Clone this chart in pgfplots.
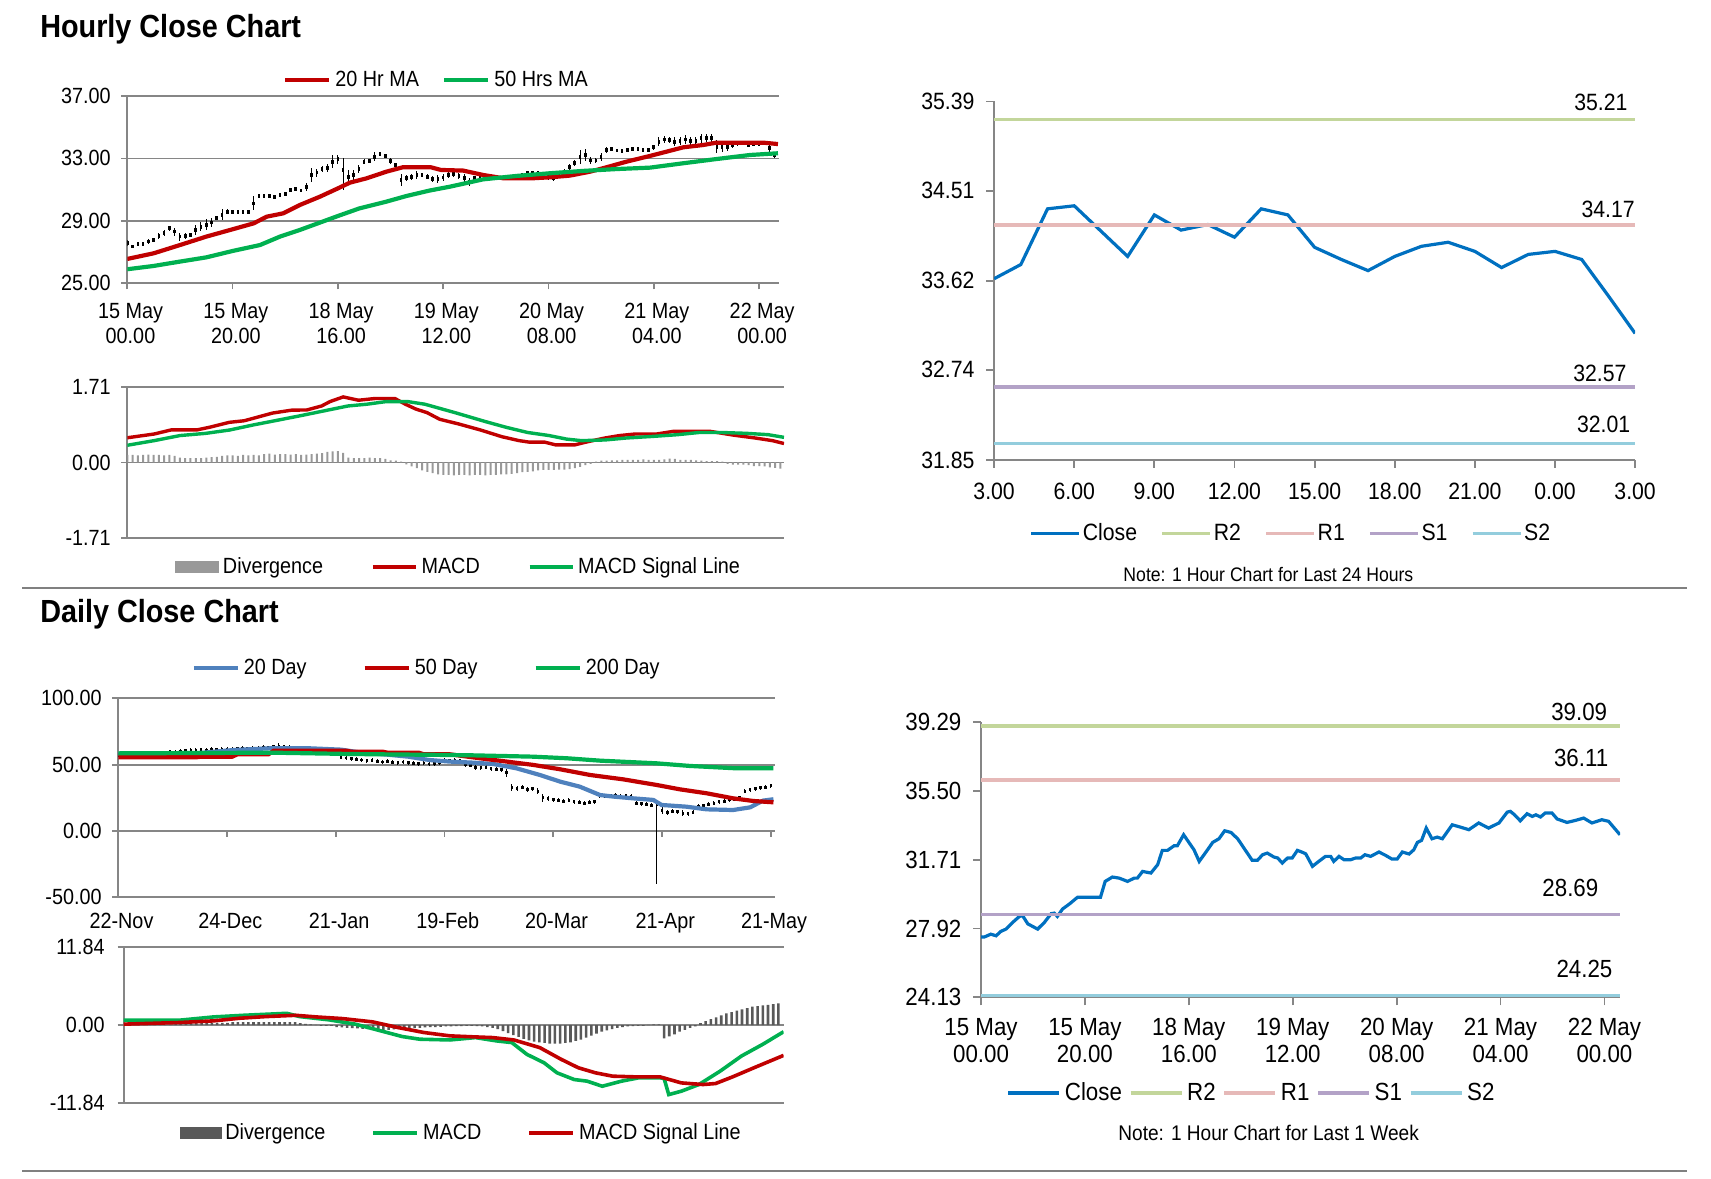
\documentclass[border=0pt]{standalone}
\usepackage{fontspec}
\setmainfont{Liberation Sans}[FakeStretch=0.9]
\usepackage{pgfplots}
\pgfplotsset{compat=1.18}

\definecolor{axgray}{HTML}{868686}
\definecolor{marred}{HTML}{C00000}
\definecolor{margreen}{HTML}{00B050}
\definecolor{dayblue}{HTML}{4F81BD}
\definecolor{closeblue}{HTML}{0070C0}
\definecolor{rtwo}{HTML}{C3D69B}
\definecolor{rone}{HTML}{E6B9B8}
\definecolor{sone}{HTML}{B3A2C7}
\definecolor{stwo}{HTML}{93CDDD}
\definecolor{divlight}{HTML}{999999}
\definecolor{divdark}{HTML}{595959}
\definecolor{rulegray}{HTML}{808080}

\newcommand{\fs}[2]{\fontsize{#1}{#2}\selectfont}

\pgfplotsset{
  base/.style={
    scale only axis, anchor=south west, clip mode=individual,
    axis line style={draw=axgray, line width=0.9pt},
    every tick/.style={draw=axgray, line width=0.9pt},
    major tick length=3pt, tick align=outside,
    grid style={draw=axgray, line width=0.9pt},
    legend cell align=left,
    legend style={draw=none, fill=none, anchor=center, legend columns=-1,
      inner sep=0pt, nodes={inner xsep=2pt, inner ysep=1pt, text=black}},
  },
  candle/.style={draw=none, mark=none, forget plot,
    error bars/y dir=both, error bars/error mark=none},
}

\begin{document}
\begin{tikzpicture}
\path[use as bounding box] (0pt,0pt) rectangle (855.5pt,589pt);

% titles and rules
\node[anchor=west, font=\fs{16pt}{18pt}\bfseries] at (16.6pt,574.5pt) {Hourly Close Chart};
\node[anchor=west, font=\fs{16pt}{18pt}\bfseries] at (16.6pt,282pt) {Daily Close Chart};
\draw[rulegray, line width=1.2pt] (11pt,295pt) -- (843.5pt,295pt);
\draw[rulegray, line width=1.2pt] (11pt,3.5pt) -- (843.5pt,3.5pt);
\node[font=\fs{9.8pt}{12pt}] at (634.2pt,301.5pt) {Note: 1 Hour Chart for Last 24 Hours};
\node[font=\fs{10.6pt}{12pt}] at (634.3pt,22.5pt) {Note: 1 Hour Chart for Last 1 Week};

%% ---------------- hourly close (top left) ----------------
\begin{axis}[base, at={(63.65pt,447.35pt)}, width=325.85pt, height=93.65pt,
  xmin=0, xmax=123.8, ymin=25, ymax=37,
  axis x line*=bottom, axis y line*=left,
  ytick={25,29,33,37}, yticklabels={25.00,29.00,33.00,37.00},
  ymajorgrids,
  xtick={0,20,40,60,80,100,120},
  xticklabels={{15 May\\00.00},{15 May\\20.00},{18 May\\16.00},{19 May\\12.00},{20 May\\08.00},{21 May\\04.00},{22 May\\00.00}},
  tick label style={font=\fs{11pt}{12.5pt}},
  xticklabel style={align=center, yshift=-3.5pt, xshift=1.6pt},
  yticklabel style={xshift=-1.8pt},
  legend style={at={(0.476,1.085)}, font=\fs{11pt}{12.5pt},
    /tikz/every even column/.append style={column sep=9.5pt}},
  legend image code/.code={\draw[#1] (0pt,0pt) -- (22pt,0pt);},
]
\addplot[candle, error bars/y explicit, error bars/error bar style={draw=black, line width=0.5pt}]
  table[x=x, y=y, y error=e] {
x y e
0 27.56 0.2
1 27.35 0.1
2 27.50 0.05
3 27.52 0.05
4 27.67 0.15
5 27.78 0.15
6 28.03 0.2
7 28.24 0.2
8 28.52 0.15
9 28.31 0.25
10 27.99 0.25
11 28.03 0.2
12 28.10 0.15
13 28.42 0.3
14 28.63 0.3
15 28.74 0.35
16 28.89 0.3
17 29.16 0.1
18 29.38 0.35
19 29.59 0.15
20 29.59 0.05
21 29.59 0.05
22 29.59 0.05
23 29.59 0.05
24 30.12 0.45
25 30.59 0.1
26 30.59 0.05
27 30.59 0.05
28 30.55 0.1
29 30.64 0.12
30 30.72 0.08
31 30.98 0.15
32 31.04 0.1
33 30.94 0.1
34 31.19 0.25
35 31.94 0.45
36 32.09 0.25
37 32.32 0.2
38 32.37 0.25
39 32.79 0.4
40 32.94 0.3
41 32.00 1.0
42 31.83 0.4
43 31.94 0.3
44 32.30 0.25
45 32.79 0.15
46 32.84 0.1
47 33.11 0.3
48 33.28 0.15
49 33.16 0.1
50 32.84 0.2
51 32.58 0.1
52 31.62 0.4
53 31.73 0.2
54 31.79 0.2
55 31.94 0.25
56 31.94 0.15
57 31.83 0.15
58 31.66 0.2
59 31.66 0.25
60 31.77 0.2
61 31.94 0.2
62 32.00 0.2
63 31.85 0.2
64 31.73 0.3
65 31.51 0.25
66 31.73 0.15
67 31.78 0.15
68 31.78 0.1
69 31.83 0.1
70 31.83 0.1
71 31.73 0.1
72 31.79 0.1
73 31.83 0.1
74 31.88 0.1
75 31.94 0.1
76 32.05 0.15
77 32.09 0.1
78 32.05 0.1
79 31.94 0.1
80 31.79 0.15
81 31.73 0.15
82 32.05 0.15
83 32.15 0.15
84 32.47 0.2
85 32.69 0.2
86 33.11 0.45
87 33.22 0.4
88 32.86 0.2
89 32.86 0.15
90 33.11 0.25
91 33.54 0.2
92 33.58 0.1
93 33.50 0.1
94 33.48 0.1
95 33.54 0.1
96 33.60 0.1
97 33.58 0.1
98 33.54 0.1
99 33.54 0.1
100 33.71 0.15
101 34.07 0.3
102 34.22 0.2
103 34.18 0.2
104 34.07 0.3
105 34.14 0.25
106 34.22 0.3
107 34.14 0.25
108 34.14 0.25
109 34.29 0.3
110 34.29 0.25
111 34.29 0.25
112 33.75 0.4
113 33.71 0.3
114 33.75 0.3
115 33.86 0.2
116 33.96 0.15
117 33.96 0.1
118 33.86 0.15
119 33.90 0.1
120 33.92 0.1
121 33.96 0.1
122 33.65 0.25
123 33.22 0.2
};
\addplot[candle, error bars/y fixed=0.12, error bars/error bar style={draw=black, line width=1.3pt}]
  table[x=x, y=y] {
x y
0 27.56
1 27.35
2 27.50
3 27.52
4 27.67
5 27.78
6 28.03
7 28.24
8 28.52
9 28.31
10 27.99
11 28.03
12 28.10
13 28.42
14 28.63
15 28.74
16 28.89
17 29.16
18 29.38
19 29.59
20 29.59
21 29.59
22 29.59
23 29.59
24 30.12
25 30.59
26 30.59
27 30.59
28 30.55
29 30.64
30 30.72
31 30.98
32 31.04
33 30.94
34 31.19
35 31.94
36 32.09
37 32.32
38 32.37
39 32.79
40 32.94
41 32.26
42 31.83
43 31.94
44 32.30
45 32.79
46 32.84
47 33.11
48 33.28
49 33.16
50 32.84
51 32.58
52 31.62
53 31.73
54 31.79
55 31.94
56 31.94
57 31.83
58 31.66
59 31.66
60 31.77
61 31.94
62 32.00
63 31.85
64 31.73
65 31.51
66 31.73
67 31.78
68 31.78
69 31.83
70 31.83
71 31.73
72 31.79
73 31.83
74 31.88
75 31.94
76 32.05
77 32.09
78 32.05
79 31.94
80 31.79
81 31.73
82 32.05
83 32.15
84 32.47
85 32.69
86 33.11
87 33.22
88 32.86
89 32.86
90 33.11
91 33.54
92 33.58
93 33.50
94 33.48
95 33.54
96 33.60
97 33.58
98 33.54
99 33.54
100 33.71
101 34.07
102 34.22
103 34.18
104 34.07
105 34.14
106 34.22
107 34.14
108 34.14
109 34.29
110 34.29
111 34.29
112 33.75
113 33.71
114 33.75
115 33.86
116 33.96
117 33.96
118 33.86
119 33.90
120 33.92
121 33.96
122 33.65
123 33.22
};
\addplot[marred, line width=2.1pt] coordinates {
(0,26.56) (5,26.92) (10,27.45) (15,27.99) (20,28.46) (24,28.84) (26.5,29.27)
(29.6,29.48) (32.8,30.02) (36.6,30.55) (40,31.08) (42.3,31.45) (45.4,31.72)
(49.2,32.15) (52.3,32.43) (57.7,32.43) (59.6,32.26) (63.8,32.22) (67.6,31.94)
(71.4,31.73) (77.1,31.73) (80.3,31.79) (84.1,31.90) (87.9,32.15) (91.0,32.43)
(94.8,32.79) (99.3,33.16) (102.4,33.43) (105.6,33.71) (109.4,33.86) (111.9,34.01)
(116.4,34.01) (120.8,34.01) (123.6,33.92)};
\addlegendentry{20 Hr MA}
\addplot[margreen, line width=2.1pt] coordinates {
(0,25.90) (5,26.11) (10,26.39) (15,26.66) (20,27.07) (25.2,27.45) (29,27.99)
(32.8,28.42) (36.6,28.89) (40,29.31) (44.1,29.80) (49.2,30.23) (53,30.59)
(57.4,30.94) (61.3,31.19) (67.6,31.66) (74,31.88) (80.3,32.05) (86.6,32.20)
(93,32.32) (99.3,32.41) (105.6,32.69) (111.9,32.96) (118.3,33.22) (123.6,33.33)};
\addlegendentry{50 Hrs MA}
\end{axis}

%% ---------------- hourly MACD (top left) ----------------
\begin{axis}[base, at={(63.65pt,320pt)}, width=328.35pt, height=75.5pt,
  xmin=0, xmax=124.7, ymin=-1.71, ymax=1.71,
  axis x line=none, axis y line*=left,
  ytick={-1.71,0,1.71}, yticklabels={-1.71,0.00,1.71},
  ymajorgrids,
  tick label style={font=\fs{11pt}{12.5pt}},
  yticklabel style={xshift=-1.8pt},
  legend style={at={(0.506,-0.192)}, font=\fs{11pt}{12.5pt},
    /tikz/every even column/.append style={column sep=22pt}},
  legend image code/.code={\draw[#1] (0pt,0pt) -- (21.5pt,0pt);},
]
\addlegendimage{legend image code/.code={\fill[divlight] (0pt,-2.6pt) rectangle (21.5pt,2.6pt);}}
\addlegendentry{Divergence}
\addplot[ybar, bar width=1pt, bar shift=0pt, fill=divlight, draw=none, forget plot] coordinates {
(0,.17)(1,.17)(2,.16)(3,.17)(4,.18)(5,.17)(6,.17)(7,.16)(8,.17)(9,.15)
(10,.11)(11,.10)(12,.10)(13,.10)(14,.10)(15,.11)(16,.12)(17,.13)
(18,.15)(19,.16)(20,.16)(21,.15)(22,.17)(23,.16)(24,.17)(25,.16)
(26,.19)(27,.20)(28,.18)(29,.19)(30,.19)(31,.18)(32,.19)(33,.17)(34,.18)(35,.19)(36,.20)(37,.21)
(38,.24)(39,.25)(40,.26)(41,.22)
(42,.11)(43,.10)(44,.10)(45,.10)(46,.11)(47,.10)(48,.10)(49,.08)
(50,.05)(51,.04)(52,.02)
(53,-.04)(54,-.09)(55,-.13)(56,-.18)(57,-.21)(58,-.24)(59,-.27)(60,-.28)(61,-.28)(62,-.29)
(63,-.28)(64,-.28)(65,-.29)(66,-.28)(67,-.28)(68,-.29)(69,-.28)(70,-.28)(71,-.27)(72,-.27)
(73,-.26)(74,-.24)(75,-.22)(76,-.21)(77,-.20)(78,-.18)(79,-.17)(80,-.17)(81,-.17)(82,-.16)
(83,-.16)(84,-.15)(85,-.13)(86,-.10)(87,-.06)(88,-.03)(89,.02)(90,.04)(91,.04)(92,.05)
(93,.05)(94,.06)(95,.06)(96,.06)(97,.06)(98,.07)(99,.06)(100,.06)(101,.06)(102,.07)
(103,.09)(104,.08)(105,.06)(106,.06)(107,.06)(108,.05)(109,.04)(110,.03)(111,.03)(112,.03)
(113,.02)(114,-.03)(115,-.05)(116,-.05)(117,-.05)(118,-.06)(119,-.08)(120,-.08)(121,-.09)
(122,-.11)(123,-.12)(124,-.14)};
\addplot[marred, line width=1.7pt] coordinates {
(0,0.56) (5.1,0.645) (8.4,0.74) (13.3,0.74) (15.7,0.80) (19.4,0.91) (22.2,0.945)
(27.6,1.12) (31.2,1.185) (34.1,1.19) (36.9,1.28) (38.5,1.38) (41.0,1.485) (43.9,1.41)
(47.1,1.45) (50.8,1.45) (52.8,1.32) (54.8,1.21) (56.9,1.13) (59.3,0.98) (63.0,0.87)
(67.1,0.735) (71.1,0.585) (74.4,0.495) (76.4,0.46) (79.3,0.46) (81.3,0.40) (85.0,0.40)
(87.4,0.47) (90.7,0.555) (93.5,0.61) (96.4,0.645) (100.5,0.645) (103.7,0.705)
(110.7,0.705) (115.1,0.62) (119.2,0.555) (122.5,0.495) (124.7,0.43)};
\addlegendentry{MACD}
\addplot[margreen, line width=1.7pt] coordinates {
(0,0.39) (5.1,0.495) (10.0,0.61) (14.9,0.66) (19.4,0.735) (23.9,0.85) (28.0,0.945)
(32.9,1.06) (37.4,1.17) (41.9,1.28) (45.5,1.32) (49.2,1.38) (53.2,1.38) (56.5,1.32)
(62.2,1.13) (67.9,0.93) (72.0,0.795) (76.0,0.68) (80.1,0.61) (83.4,0.53) (86.2,0.495)
(90.7,0.51) (94.8,0.555) (99.7,0.59) (104.5,0.63) (108.6,0.68) (112.7,0.68)
(117.6,0.66) (121.7,0.63) (124.7,0.57)};
\addlegendentry{MACD Signal Line}
\end{axis}

%% ---------------- last 24 hours (top right) ----------------
\begin{axis}[base, at={(497.05pt,359pt)}, width=320.5pt, height=179.25pt,
  xmin=0, xmax=24, ymin=31.85, ymax=35.39,
  axis x line*=bottom, axis y line*=left, major tick length=4pt,
  ytick={31.85,32.74,33.62,34.51,35.39}, yticklabels={31.85,32.74,33.62,34.51,35.39},
  xtick={0,3,...,24}, xticklabels={3.00,6.00,9.00,12.00,15.00,18.00,21.00,0.00,3.00},
  tick label style={font=\fs{11.8pt}{13.5pt}},
  xticklabel style={yshift=-3.8pt},
  yticklabel style={xshift=-2.3pt},
  legend style={at={(0.463,-0.206)}, font=\fs{11.8pt}{13.5pt},
    nodes={inner xsep=1pt},
    /tikz/every even column/.append style={column sep=10.75pt}},
  legend image code/.code={\draw[#1] (0pt,0pt) -- (24pt,0pt);},
]
\addplot[closeblue, line width=1.6pt] coordinates {
(0,33.64) (1,33.78) (2,34.33) (3,34.36) (4,34.11) (5,33.86) (6,34.27) (7,34.12)
(8,34.175) (9,34.05) (10,34.33) (11,34.27) (12,33.95) (13,33.83) (14,33.72)
(15,33.86) (16,33.96) (17,34.00) (18,33.91) (19,33.75) (20,33.88) (21,33.91)
(22,33.83) (23,33.47) (24,33.10)};
\addlegendentry{Close}
\addplot[rtwo, line width=1.6pt] coordinates {(0,35.21) (24,35.21)};
\addlegendentry{R2}
\addplot[rone, line width=1.6pt] coordinates {(0,34.17) (24,34.17)};
\addlegendentry{R1}
\addplot[sone, line width=1.6pt] coordinates {(0,32.57) (24,32.57)};
\addlegendentry{S1}
\addplot[stwo, line width=1.6pt] coordinates {(0,32.01) (24,32.01)};
\addlegendentry{S2}
\node[anchor=base east, font=\fs{11.8pt}{13.5pt}, inner sep=0pt, yshift=4.8pt] at (axis cs:23.73,35.21) {35.21};
\node[anchor=base east, font=\fs{11.8pt}{13.5pt}, inner sep=0pt, yshift=3.8pt] at (axis cs:24.0,34.17) {34.17};
\node[anchor=base east, font=\fs{11.8pt}{13.5pt}, inner sep=0pt, yshift=3.0pt] at (axis cs:23.69,32.57) {32.57};
\node[anchor=base east, font=\fs{11.8pt}{13.5pt}, inner sep=0pt, yshift=5.8pt] at (axis cs:23.83,32.01) {32.01};
\end{axis}

%% ---------------- daily close (bottom left) ----------------
\begin{axis}[base, at={(59.15pt,140.35pt)}, width=328.35pt, height=99.5pt,
  xmin=0, xmax=126.8, ymin=-50, ymax=100,
  axis x line*=bottom, axis y line*=left,
  ytick={-50,0,50,100}, yticklabels={-50.00,0.00,50.00,100.00},
  ymajorgrids,
  xtick={0,21,42,63,84,105,126},
  xticklabels={22-Nov,24-Dec,21-Jan,19-Feb,20-Mar,21-Apr,21-May},
  x tick style={draw=none},
  tick label style={font=\fs{11pt}{12.5pt}},
  xticklabel style={yshift=-1.3pt, xshift=1.6pt},
  yticklabel style={xshift=-1.8pt},
  legend style={at={(0.471,1.152)}, font=\fs{11pt}{12.5pt},
    /tikz/every even column/.append style={column sep=26pt}},
  legend image code/.code={\draw[#1] (0pt,0pt) -- (22pt,0pt);},
]
\pgfplotsinvokeforeach{0,21,42,63,84,105,126}{
  \draw[axgray, line width=0.9pt] (axis cs:#1,0) -- ([yshift=-3pt]axis cs:#1,0);}
\addplot[candle, error bars/y explicit, error bars/error bar style={draw=black, line width=0.5pt}]
  table[x=x, y=y, y error=e] {
x y e
0 57.0 1.5
1 57.2 1.5
2 57.5 1.5
3 57.5 1.5
4 57.8 1.5
5 58.0 1.5
6 58.0 1.5
7 58.2 1.5
8 58.5 1.5
9 59.0 1.5
10 59.8 1.5
11 59.5 1.5
12 60.0 1.5
13 60.5 1.5
14 60.8 1.5
15 61.0 1.5
16 61.2 1.5
17 61.0 1.5
18 61.5 1.5
19 61.3 1.5
20 61.8 1.5
21 61.5 1.5
22 61.8 1.5
23 62.0 1.5
24 62.3 1.5
25 62.0 1.5
26 62.5 1.5
27 62.3 1.5
28 63.0 1.5
29 62.8 1.5
30 63.5 1.5
31 64.0 2.5
32 63.5 1.5
33 63.0 1.5
34 62.0 1.5
35 61.5 1.5
36 61.0 1.5
37 60.5 1.5
38 60.5 1.5
39 60.0 1.5
40 59.5 1.5
41 59.0 1.5
42 58.0 1.5
43 55.5 1.5
44 55.0 1.5
45 54.5 1.5
46 54.0 1.5
47 53.5 1.5
48 53.0 1.5
49 53.2 1.5
50 52.5 1.5
51 52.0 1.5
52 52.5 1.5
53 51.8 1.5
54 51.5 1.5
55 52.0 1.5
56 51.5 1.5
57 51.0 1.5
58 50.8 1.5
59 51.2 1.5
60 50.5 1.5
61 50.8 1.5
62 51.5 1.5
63 53.5 1.5
64 53.0 1.5
65 53.3 1.5
66 52.8 1.5
67 50.0 1.5
68 49.5 1.5
69 48.0 2.0
70 47.5 1.5
71 48.0 1.5
72 47.0 1.5
73 46.5 1.5
74 46.0 1.5
75 44.0 3.0
76 33.0 2.5
77 32.0 2.0
78 33.0 1.5
79 31.5 2.0
80 32.0 1.5
81 30.0 2.5
82 25.0 3.0
83 24.6 2.0
84 23.5 1.5
85 23.0 1.5
86 22.5 1.5
87 23.0 1.5
88 22.0 1.5
89 21.5 1.5
90 21.0 1.5
91 21.5 1.5
92 22.0 1.5
93 26.5 2.0
94 26.0 1.5
95 26.5 1.5
96 26.8 1.5
97 26.2 1.5
98 26.5 1.5
99 26.0 1.5
100 21.0 1.5
101 20.5 1.5
102 20.0 1.5
103 19.5 1.5
104 -8.3 31.5
105 15.5 3.0
106 14.0 2.0
107 15.0 1.5
108 14.5 1.5
109 13.5 2.0
110 13.0 1.5
111 14.0 1.5
112 18.5 1.5
113 19.0 1.5
114 20.0 1.5
115 21.0 1.5
116 22.0 1.5
117 22.5 1.5
118 23.5 1.5
119 24.0 1.5
120 25.0 1.5
121 30.0 1.5
122 31.0 1.5
123 32.0 1.5
124 32.5 1.5
125 33.0 1.5
126 34.0 1.5
};
\addplot[candle, error bars/y fixed=1.1, error bars/error bar style={draw=black, line width=1.3pt}]
  table[x=x, y=y] {
x y
0 57.0
1 57.2
2 57.5
3 57.5
4 57.8
5 58.0
6 58.0
7 58.2
8 58.5
9 59.0
10 59.8
11 59.5
12 60.0
13 60.5
14 60.8
15 61.0
16 61.2
17 61.0
18 61.5
19 61.3
20 61.8
21 61.5
22 61.8
23 62.0
24 62.3
25 62.0
26 62.5
27 62.3
28 63.0
29 62.8
30 63.5
31 64.0
32 63.5
33 63.0
34 62.0
35 61.5
36 61.0
37 60.5
38 60.5
39 60.0
40 59.5
41 59.0
42 58.0
43 55.5
44 55.0
45 54.5
46 54.0
47 53.5
48 53.0
49 53.2
50 52.5
51 52.0
52 52.5
53 51.8
54 51.5
55 52.0
56 51.5
57 51.0
58 50.8
59 51.2
60 50.5
61 50.8
62 51.5
63 53.5
64 53.0
65 53.3
66 52.8
67 50.0
68 49.5
69 48.0
70 47.5
71 48.0
72 47.0
73 46.5
74 46.0
75 44.0
76 33.0
77 32.0
78 33.0
79 31.5
80 32.0
81 30.0
82 25.0
83 24.6
84 23.5
85 23.0
86 22.5
87 23.0
88 22.0
89 21.5
90 21.0
91 21.5
92 22.0
93 26.5
94 26.0
95 26.5
96 26.8
97 26.2
98 26.5
99 26.0
100 21.0
101 20.5
102 20.0
103 19.5
104 20.0
105 15.5
106 14.0
107 15.0
108 14.5
109 13.5
110 13.0
111 14.0
112 18.5
113 19.0
114 20.0
115 21.0
116 22.0
117 22.5
118 23.5
119 24.0
120 25.0
121 30.0
122 31.0
123 32.0
124 32.5
125 33.0
126 34.0
};
\addplot[dayblue, line width=2.1pt] coordinates {
(0,58.0) (15,58.5) (22.2,61.0) (29.3,62.3) (37,62.3) (43,61.3) (47,59.0) (52,57.5)
(56,56.0) (60,53.5) (64,52.3) (68.5,51.5) (72.4,50.5) (76.9,47.2) (81.4,42.2)
(85.3,37.2) (89.1,33.4) (93,27.1) (95.6,25.9) (99.4,24.6) (103.3,23.4) (104.9,19.6)
(109.7,18.3) (113.6,16.3) (118.7,15.8) (122,17.8) (124.5,22.9) (126.5,23.9)};
\addlegendentry{20 Day}
\addplot[marred, line width=2.1pt] coordinates {
(0,55.5) (15,55.5) (16,56.0) (22,56.0) (23,57.8) (29,57.8) (30,60.5) (44,60.5)
(45,59.8) (51,59.8) (52,59.0) (58,59.0) (59,57.8) (64,57.8) (69.8,54.8) (75,52.3)
(80.1,49.8) (85.3,46.5) (91.1,42.2) (97.5,38.9) (103.9,34.7) (108.4,31.4)
(113.6,28.4) (118.7,24.6) (122.6,22.6) (126.5,21.6)};
\addlegendentry{50 Day}
\addplot[margreen, line width=2.1pt] coordinates {
(0,58.5) (30,59.0) (45,58.0) (63,57.3) (68.5,57.0) (80.1,56.0) (86.6,54.8)
(93.0,53.0) (103.9,51.0) (110.4,49.0) (119.4,47.2) (126.5,47.2)};
\addlegendentry{200 Day}
\end{axis}

%% ---------------- daily MACD (bottom left) ----------------
\begin{axis}[base, at={(61.8pt,37.5pt)}, width=330pt, height=77.85pt,
  xmin=0, xmax=127, ymin=-11.84, ymax=11.84,
  axis x line=none, axis y line*=left,
  ytick={-11.84,0,11.84}, yticklabels={-11.84,0.00,11.84},
  ymajorgrids,
  tick label style={font=\fs{11pt}{12.5pt}},
  yticklabel style={xshift=-3pt},
  legend style={at={(0.513,-0.193)}, font=\fs{11pt}{12.5pt},
    /tikz/every even column/.append style={column sep=21pt}},
  legend image code/.code={\draw[#1] (0pt,0pt) -- (22pt,0pt);},
]
\addlegendimage{legend image code/.code={\fill[divdark] (0pt,-2.6pt) rectangle (20.5pt,2.6pt);}}
\addlegendentry{Divergence}
\addplot[ybar, bar width=1.3pt, bar shift=0pt, fill=divdark, draw=none, forget plot] coordinates {
(0,.05)(1,.05)(2,.05)(3,.05)(4,.05)(5,.05)(6,.05)(7,.05)(8,.05)(9,.05)
(10,.35)(11,.35)(12,.35)(13,.35)(14,.35)(15,.35)(16,.35)(17,.35)(18,.35)(19,.35)(20,.35)
(21,.45)(22,.45)(23,.45)(24,.45)(25,.45)(26,.45)(27,.45)(28,.45)(29,.45)(30,.45)(31,.45)(32,.45)(33,.45)
(34,.3)(35,.2)(36,.1)(37,.05)(38,-.1)(39,-.1)(40,-.1)
(41,-.3)(42,-.35)(43,-.4)(44,-.45)(45,-.5)(46,-.55)(47,-.6)(48,-.65)(49,-.7)(50,-.7)
(51,-.7)(52,-.65)(53,-.6)(54,-.55)(55,-.5)(56,-.45)(57,-.4)(58,-.35)(59,-.3)(60,-.3)
(61,-.25)(62,-.2)(63,-.2)(64,-.15)(65,-.15)(66,-.1)(67,-.1)(68,-.15)(69,-.2)(70,-.3)
(71,-.4)(72,-.6)(73,-.9)(74,-1.2)(75,-1.5)
(76,-1.8)(77,-2.1)(78,-2.3)(79,-2.5)(80,-2.6)
(81,-2.7)(82,-2.8)(83,-2.8)(84,-2.8)(85,-2.7)(86,-2.6)(87,-2.4)(88,-2.2)
(89,-1.9)(90,-1.6)(91,-1.3)(92,-1.0)(93,-.8)(94,-.6)(95,-.4)
(96,-.3)(97,-.2)(98,-.15)(99,-.1)(100,-.1)(101,.05)(102,.1)(103,.1)
(104,-2.0)(105,-1.7)(106,-1.4)(107,-1.0)(108,-.7)(109,-.4)(110,-.2)
(111,.3)(112,.6)(113,.9)(114,1.2)(115,1.5)(116,1.8)(117,2.0)(118,2.2)(119,2.4)(120,2.6)
(121,2.8)(122,2.9)(123,3.0)(124,3.1)(125,3.2)(126,3.3)};
\addplot[margreen, line width=1.8pt] coordinates {
(0,0.75) (10.7,0.75) (17.3,1.25) (23.1,1.5) (31.4,1.8) (33.9,1.3) (39.6,0.8)
(44.6,0.15) (49.5,-0.87) (53.6,-1.73) (57.0,-2.14) (62.8,-2.25) (67.7,-1.89)
(71.8,-2.40) (74.7,-2.65) (77.6,-4.44) (80.9,-5.72) (83.4,-7.25) (86.7,-8.27)
(89.2,-8.52) (92.1,-9.29) (95.8,-8.52) (99.1,-8.01) (103.2,-8.01) (104.0,-8.1)
(104.9,-10.56) (107.3,-10.05) (110.7,-9.03) (114.8,-6.99) (118.9,-4.69)
(123.0,-2.91) (127,-1.0)};
\addlegendentry{MACD}
\addplot[marred, line width=1.8pt] coordinates {
(0,0.15) (10.7,0.40) (17.3,0.65) (22.3,1.05) (27.3,1.3) (33.1,1.5) (37.1,1.25)
(42.1,1.0) (47.9,0.5) (52.8,-0.36) (57.8,-1.12) (62.8,-1.63) (67.7,-1.79)
(71.0,-1.89) (75.1,-2.25) (80.1,-3.42) (84.2,-5.2) (87.5,-6.48) (90.8,-7.25)
(94.1,-7.76) (98.3,-7.86) (103.2,-7.86) (107.3,-8.78) (111.5,-9.03) (113.9,-8.88)
(117.2,-7.86) (121.3,-6.48) (127,-4.6)};
\addlegendentry{MACD Signal Line}
\end{axis}

%% ---------------- last 1 week (bottom right) ----------------
\begin{axis}[base, at={(490.5pt,90.35pt)}, width=319.5pt, height=137.5pt,
  xmin=0, xmax=123, ymin=24.13, ymax=39.29,
  axis x line*=bottom, axis y line*=left, major tick length=4pt,
  ytick={24.13,27.92,31.71,35.50,39.29}, yticklabels={24.13,27.92,31.71,35.50,39.29},
  xtick={0,20,40,60,80,100,120},
  xticklabels={{15 May\\00.00},{15 May\\20.00},{18 May\\16.00},{19 May\\12.00},{20 May\\08.00},{21 May\\04.00},{22 May\\00.00}},
  tick label style={font=\fs{12.4pt}{13.5pt}},
  xticklabel style={align=center, yshift=-2.9pt},
  yticklabel style={xshift=-2.3pt},
  legend style={at={(0.425,-0.348)}, font=\fs{12.4pt}{13.5pt},
    /tikz/every even column/.append style={column sep=1.5pt}},
  legend image code/.code={\draw[#1] (0pt,0pt) -- (25.5pt,0pt);},
]
\addplot[closeblue, line width=1.6pt] coordinates {
(0,27.45) (0.6,27.45) (1.9,27.61) (2.9,27.52) (3.8,27.76) (4.8,27.89) (6.1,28.26)
(7.4,28.59) (8.0,28.63) (9.0,28.18) (10.9,27.89) (12.2,28.26) (13.5,28.74) (14.1,28.77)
(14.7,28.59) (15.7,29.0) (17.0,29.27) (18.6,29.65) (23.0,29.65) (23.9,30.52)
(25.3,30.76) (26.6,30.70) (28.2,30.52) (29.5,30.70) (30.1,30.70) (31.1,31.07)
(32.7,30.98) (34.0,31.44) (34.9,32.23) (35.9,32.23) (37.2,32.49) (37.8,32.49)
(39.0,33.09) (41.0,32.26) (42.0,31.62) (43.6,32.26) (44.6,32.67) (45.8,32.87)
(46.9,33.31) (48.1,33.22) (49.4,32.87) (50.6,32.36) (52.2,31.68) (53.2,31.68)
(54.2,31.99) (55.1,32.08) (56.4,31.86) (57.1,31.81) (58.0,31.53) (59.0,31.81)
(59.9,31.81) (60.9,32.23) (61.9,32.12) (62.5,32.04) (63.8,31.35) (65.0,31.62)
(66.3,31.90) (67.3,31.90) (67.9,31.62) (68.9,31.90) (69.9,31.71) (71.1,31.71)
(72.1,31.81) (73.1,31.81) (73.9,31.99) (75.0,31.90) (76.6,32.14) (77.9,31.95)
(79.1,31.75) (80.1,31.75) (81.1,32.14) (82.4,32.03) (83.3,32.26) (84.0,32.67)
(84.8,32.78) (85.7,33.46) (86.8,32.87) (87.8,32.96) (88.8,32.87) (90.7,33.64)
(92.3,33.51) (93.9,33.37) (95.8,33.74) (97.7,33.46) (99.7,33.74) (101.3,34.34)
(101.9,34.38) (102.7,34.19) (103.8,33.86) (105.1,34.25) (106.1,34.10) (106.8,34.19)
(107.7,34.07) (108.6,34.29) (109.9,34.29) (110.9,33.96) (112.8,33.77) (114.4,33.88)
(116.0,34.01) (117.6,33.74) (119.5,33.92) (120.8,33.83) (123,33.09)};
\addlegendentry{Close}
\addplot[rtwo, line width=1.6pt] coordinates {(0,39.09) (123,39.09)};
\addlegendentry{R2}
\addplot[rone, line width=1.6pt] coordinates {(0,36.11) (123,36.11)};
\addlegendentry{R1}
\addplot[sone, line width=1.6pt] coordinates {(0,28.69) (123,28.69)};
\addlegendentry{S1}
\addplot[stwo, line width=1.6pt] coordinates {(0,24.25) (123,24.25)};
\addlegendentry{S2}
\node[anchor=base east, font=\fs{12.4pt}{13.5pt}, inner sep=0pt, yshift=2.5pt] at (axis cs:120.6,39.09) {39.09};
\node[anchor=base east, font=\fs{12.4pt}{13.5pt}, inner sep=0pt, yshift=6.5pt] at (axis cs:120.8,36.11) {36.11};
\node[anchor=base east, font=\fs{12.4pt}{13.5pt}, inner sep=0pt, yshift=9pt] at (axis cs:118.9,28.69) {28.69};
\node[anchor=base east, font=\fs{12.4pt}{13.5pt}, inner sep=0pt, yshift=8.8pt] at (axis cs:121.6,24.25) {24.25};
\end{axis}
\end{tikzpicture}
\end{document}
